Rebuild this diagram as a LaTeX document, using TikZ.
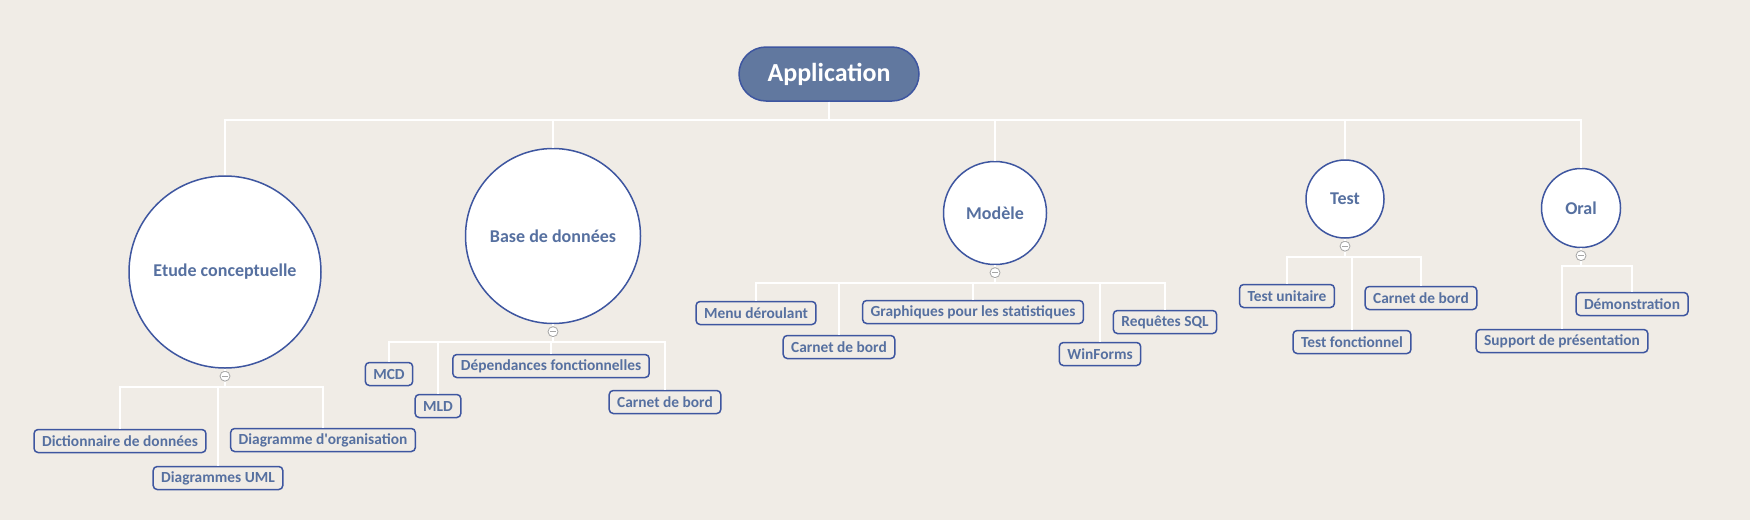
\documentclass[tikz,border=0pt]{standalone}
\usepackage{fontspec}
\setmainfont{Carlito}
\usetikzlibrary{shapes.geometric}
\usetikzlibrary{positioning}
\definecolor{bg}{HTML}{F0ECE6}
\definecolor{edge}{HTML}{3E56A0}
\definecolor{ink}{HTML}{5670A0}
\definecolor{rootfill}{HTML}{61789F}
\tikzstyle{root}=[draw=edge, line width=1.5pt, fill=rootfill, rounded corners=27pt,
minimum width=180pt, minimum height=54pt, text=white, font=\bfseries\fontsize{26}{30}\selectfont]
\tikzstyle{topic}=[circle, draw=edge, line width=1.5pt, fill=white, inner sep=0pt,
text=ink, font=\bfseries\fontsize{18}{21}\selectfont]
\tikzstyle{leaf}=[draw=edge, line width=1.5pt, rounded corners=4pt, fill=bg, inner xsep=8pt,
minimum height=23pt, text=ink, font=\bfseries\fontsize{15.4}{17}\selectfont]
\tikzstyle{collapse}=[circle, draw=gray!70, line width=0.8pt, fill=white, minimum size=10pt, inner sep=0pt,
path picture={\draw[gray!70, line width=0.8pt] ([xshift=-3pt]path picture bounding box.center) -- ([xshift=3pt]path picture bounding box.center);}]
\tikzstyle{link}=[draw=white, line width=2pt]

\begin{document}
\begin{tikzpicture}[x=1pt, y=-1pt]

    \fill[bg] (0,0) rectangle (1750,520);
    \useasboundingbox (0,0) rectangle (1750,520);

    \node[root] (app) at (829,74) {Application};

    % TOPICS
    \node[topic, minimum size=192pt] (etude) at (225,272) {Etude conceptuelle};
    \node[topic, minimum size=175pt] (bdd) at (553,236) {Base de données};
    \node[topic, minimum size=103pt] (modele) at (995,213) {Modèle};
    \node[topic, minimum size=78pt] (test) at (1345,199) {Test};
    \node[topic, minimum size=79pt] (oral) at (1581,208) {Oral};

    \draw[link] (app.south) -- ++(0,18) -| (etude.north);
    \draw[link] (app.south) -- ++(0,18) -| (bdd.north);
    \draw[link] (app.south) -- ++(0,18) -| (modele.north);
    \draw[link] (app.south) -- ++(0,18) -| (test.north);
    \draw[link] (app.south) -- ++(0,18) -| (oral.north);

    % ETUDE CONCEPTUELLE
    \node[collapse, below=2pt of etude] (etudeC) {};
    \node[leaf] (dico) at (120,441) {Dictionnaire de données};
    \node[leaf] (uml) at (218,478) {Diagrammes UML};
    \node[leaf] (orga) at (323,440) {Diagramme d\textquotesingle organisation};
    \draw[link] (etude) -- (etudeC);
    \foreach \n in {dico, uml, orga}
        \draw[link] (etudeC.south) -- ++(0,5) -| (\n.north);

    % BASE DE DONNEES
    \node[collapse, below=2pt of bdd] (bddC) {};
    \node[leaf] (mcd) at (389,374) {MCD};
    \node[leaf] (mld) at (438,406) {MLD};
    \node[leaf] (dep) at (551,366) {Dépendances fonctionnelles};
    \node[leaf] (carnetBdd) at (665,402) {Carnet de bord};
    \draw[link] (bdd) -- (bddC);
    \foreach \n in {mcd, mld, dep, carnetBdd}
        \draw[link] (bddC.south) -- ++(0,5) -| (\n.north);

    % MODELE
    \node[collapse, below=2pt of modele] (modeleC) {};
    \node[leaf] (menu) at (756,313) {Menu déroulant};
    \node[leaf] (carnetMod) at (839,347) {Carnet de bord};
    \node[leaf] (graph) at (973,312) {Graphiques pour les statistiques};
    \node[leaf] (winforms) at (1100,354) {WinForms};
    \node[leaf] (sql) at (1165,322) {Requêtes SQL};
    \draw[link] (modele) -- (modeleC);
    \foreach \n in {menu, carnetMod, graph, winforms, sql}
        \draw[link] (modeleC.south) -- ++(0,5) -| (\n.north);

    % TEST
    \node[collapse, below=2pt of test] (testC) {};
    \node[leaf] (unit) at (1287,296) {Test unitaire};
    \node[leaf] (fonct) at (1352,342) {Test fonctionnel};
    \node[leaf] (carnetTest) at (1421,298) {Carnet de bord};
    \draw[link] (test) -- (testC);
    \foreach \n in {unit, fonct, carnetTest}
        \draw[link] (testC.south) -- ++(0,5) -| (\n.north);

    % ORAL
    \node[collapse, below=2pt of oral] (oralC) {};
    \node[leaf] (demo) at (1632,304) {Démonstration};
    \node[leaf] (support) at (1562,341) {Support de présentation};
    \draw[link] (oral) -- (oralC);
    \foreach \n in {demo, support}
        \draw[link] (oralC.south) -- ++(0,5) -| (\n.north);

\end{tikzpicture}
\end{document}
